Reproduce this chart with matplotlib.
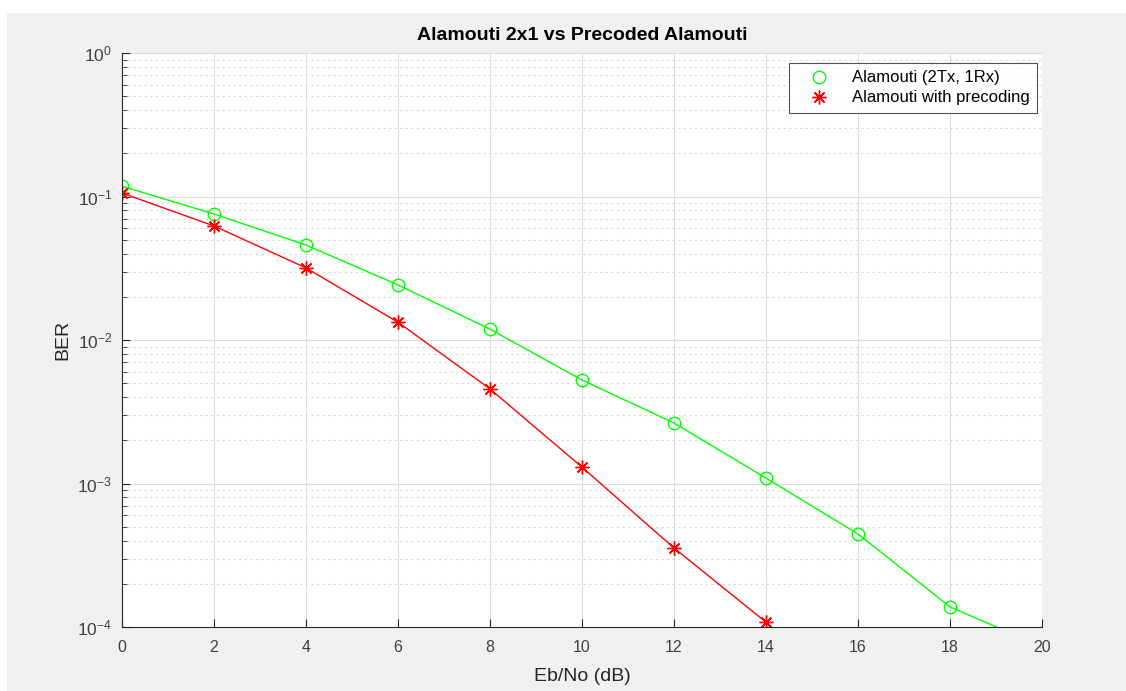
import numpy as np
import matplotlib
matplotlib.use("Agg")
import matplotlib.pyplot as plt
from matplotlib.patches import Rectangle
from matplotlib.ticker import LogLocator, NullFormatter

plt.rcParams['font.family'] = ['Liberation Sans', 'DejaVu Sans']
plt.rcParams['mathtext.fontset'] = 'custom'
plt.rcParams['mathtext.rm'] = 'Liberation Sans'
plt.rcParams['mathtext.default'] = 'regular'
plt.rcParams['axes.unicode_minus'] = False

# BER values
ebno = [0, 2, 4, 6, 8, 10, 12, 14, 16, 18, 20]
ber_alamouti = [0.118, 0.0755, 0.0459, 0.0242, 0.0119, 0.00526, 0.00264,
                0.00109, 0.000445, 0.000138, 7.3e-5]
ebno_pre = [0, 2, 4, 6, 8, 10, 12, 14, 16]
ber_precoded = [0.1057, 0.0623, 0.0318, 0.0133, 0.00456, 0.0013, 0.000355,
                0.000108, 2.1e-5]

fig = plt.figure(figsize=(11.26, 6.91), dpi=100, facecolor='white')
# grey MATLAB figure window, with a thin white strip on top and left
fig.patches.append(Rectangle((7 / 1126, 0), 1 - 7 / 1126, 1 - 13 / 691,
                             transform=fig.transFigure, facecolor='#f0f0f0',
                             edgecolor='none', zorder=-10))

ax = fig.add_axes([122 / 1126, 1 - 627 / 691, 920 / 1126, 574 / 691])
ax.set_facecolor('white')

ax.semilogy(ebno, ber_alamouti, color='#00ff00', marker='o', markersize=9,
            markerfacecolor='none', markeredgewidth=1.0, linewidth=1.0,
            label='Alamouti (2Tx, 1Rx)')
ax.semilogy(ebno_pre, ber_precoded, color='#ff0000', marker=(8, 2, 0),
            markersize=10, markeredgewidth=1.0, linewidth=1.0,
            label='Alamouti with precoding')

ax.set_xlim(0, 20)
ax.set_ylim(1e-4, 1)
ax.set_xticks(np.arange(0, 21, 2))
ax.yaxis.set_major_locator(LogLocator(base=10, numticks=10))
ax.yaxis.set_minor_locator(LogLocator(base=10, subs=np.arange(2, 10), numticks=20))
ax.yaxis.set_minor_formatter(NullFormatter())

ax.grid(True, which='major', color='#dcdcdc', linewidth=0.8, linestyle='-')
ax.grid(True, which='minor', axis='y', color='#d8d8d8', linewidth=0.8,
        linestyle=(0, (2, 3)))
ax.set_axisbelow(True)

for s in ['top', 'right']:
    ax.spines[s].set_visible(False)
for s in ['left', 'bottom']:
    ax.spines[s].set_color('#262626')
    ax.spines[s].set_linewidth(0.8)

ax.tick_params(which='both', direction='in', colors='#262626',
               labelcolor='#404040', labelsize=11.5)
ax.tick_params(axis='y', labelsize=12.5, pad=7)
ax.tick_params(which='major', length=6)
ax.tick_params(which='minor', length=3.5)
ax.tick_params(axis='x', pad=9)

ax.set_xlabel('Eb/No (dB)', fontsize=14, color='#262626', labelpad=10)
ax.set_ylabel('BER', fontsize=14, color='#262626', labelpad=4)
ax.set_title('Alamouti 2x1 vs Precoded Alamouti', fontsize=14,
             fontweight='bold', color='black', pad=9)

leg = ax.legend(loc='upper right', bbox_to_anchor=(0.9946, 0.9826),
                fontsize=12, frameon=True, fancybox=False,
                borderpad=0.45, handletextpad=0.63, labelspacing=0.3,
                handlelength=2.7, borderaxespad=0)
leg.get_frame().set_edgecolor('#262626')
leg.get_frame().set_linewidth(0.8)
for line in leg.get_lines():
    line.set_linestyle('none')

fig.savefig('out.png', dpi=100, facecolor=fig.get_facecolor())
